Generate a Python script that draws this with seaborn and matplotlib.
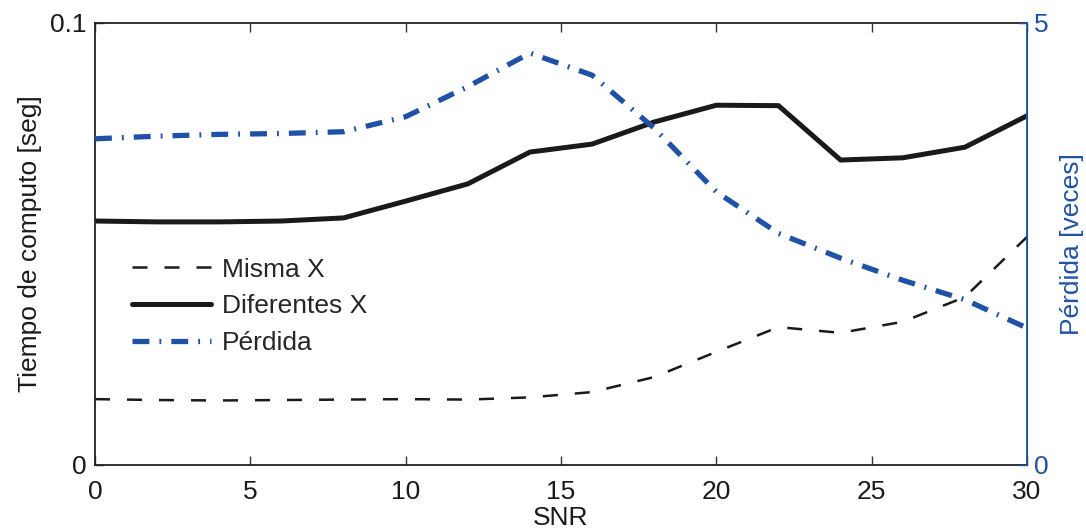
import matplotlib
matplotlib.use("Agg")
import matplotlib.pyplot as plt
import seaborn as sns
import pandas as pd

snr = [0, 2, 4, 6, 8, 10, 12, 14, 16, 18, 20, 22, 24, 26, 28, 30]
misma_x = [0.0149, 0.0147, 0.0146, 0.0147, 0.0148, 0.0149, 0.0148, 0.0153, 0.0165, 0.0199,
           0.0256, 0.0312, 0.0299, 0.0324, 0.0380, 0.0516]
diferentes_x = [0.0552, 0.0550, 0.0550, 0.0552, 0.0559, 0.0597, 0.0636, 0.0708, 0.0726, 0.0776,
                0.0814, 0.0813, 0.0690, 0.0695, 0.0719, 0.0790]
perdida = [3.69, 3.72, 3.74, 3.75, 3.77, 3.94, 4.28, 4.66, 4.41, 3.81,
           3.09, 2.62, 2.34, 2.09, 1.87, 1.55]

df = pd.DataFrame({"SNR": snr, "misma": misma_x, "dif": diferentes_x, "perd": perdida})

sns.set_style("ticks")
plt.rcParams["font.family"] = ["Liberation Sans", "DejaVu Sans"]

BLUE = "#1f52a6"
BLACK = "#1a1a1a"
FS = 19

fig = plt.figure(figsize=(10.86, 5.30), dpi=100)
ax = fig.add_axes([95 / 1086, 1 - 465 / 530, 932 / 1086, 442 / 530])
ax2 = ax.twinx()

sns.lineplot(data=df, x="SNR", y="misma", ax=ax, color=BLACK, lw=1.8,
             label="Misma X")
sns.lineplot(data=df, x="SNR", y="dif", ax=ax, color=BLACK, lw=3.6,
             label="Diferentes X")
sns.lineplot(data=df, x="SNR", y="perd", ax=ax2, color=BLUE, lw=3.8,
             label="Pérdida")
ax.lines[0].set_dashes([6.0, 6.8])
ax2.lines[0].set_dashes([3.2, 1.9, 0.35, 1.9])

ax.set_xlim(0, 30)
ax.set_ylim(0, 0.1)
ax2.set_ylim(0, 5)
ax.set_xticks([0, 5, 10, 15, 20, 25, 30])
ax.set_yticks([0, 0.1])
ax.set_yticklabels(["0", "0.1"])
ax2.set_yticks([0, 5])
ax2.set_yticklabels(["0", "5"])

ax.tick_params(axis="both", direction="in", labelsize=FS, length=6.5, width=1,
               color="#333333", labelcolor=BLACK, top=True)
ax.tick_params(axis="x", pad=10.5)
ax.tick_params(axis="y", right=False, pad=6)
ax2.tick_params(axis="y", direction="in", labelsize=FS, length=6.5, width=1,
                colors=BLUE, pad=5)

for s in ["left", "bottom", "top"]:
    ax.spines[s].set_color("#222222")
    ax.spines[s].set_linewidth(1.3)
ax2.spines["right"].set_color(BLUE)
ax2.spines["right"].set_linewidth(1.3)
for s in ["left", "bottom", "top"]:
    ax2.spines[s].set_visible(False)

ax.set_xlabel("SNR", fontsize=FS, color=BLACK, labelpad=2)
ax.set_ylabel("Tiempo de computo [seg]", fontsize=FS, color=BLACK, labelpad=6)
ax2.set_ylabel("Pérdida [veces]", fontsize=FS, color=BLUE, labelpad=8)

h1, l1 = ax.get_legend_handles_labels()
h2, l2 = ax2.get_legend_handles_labels()
if ax2.get_legend():
    ax2.get_legend().remove()
ax.get_legend().remove()
leg = ax2.legend(h1 + h2, l1 + l2, loc="upper left", bbox_to_anchor=(0.028, 0.493),
                 borderaxespad=0, borderpad=0.4,
                 frameon=False, fontsize=FS, handlelength=3.0, handletextpad=0.42,
                 labelspacing=0.48)

fig.savefig("out.png", dpi=100)
